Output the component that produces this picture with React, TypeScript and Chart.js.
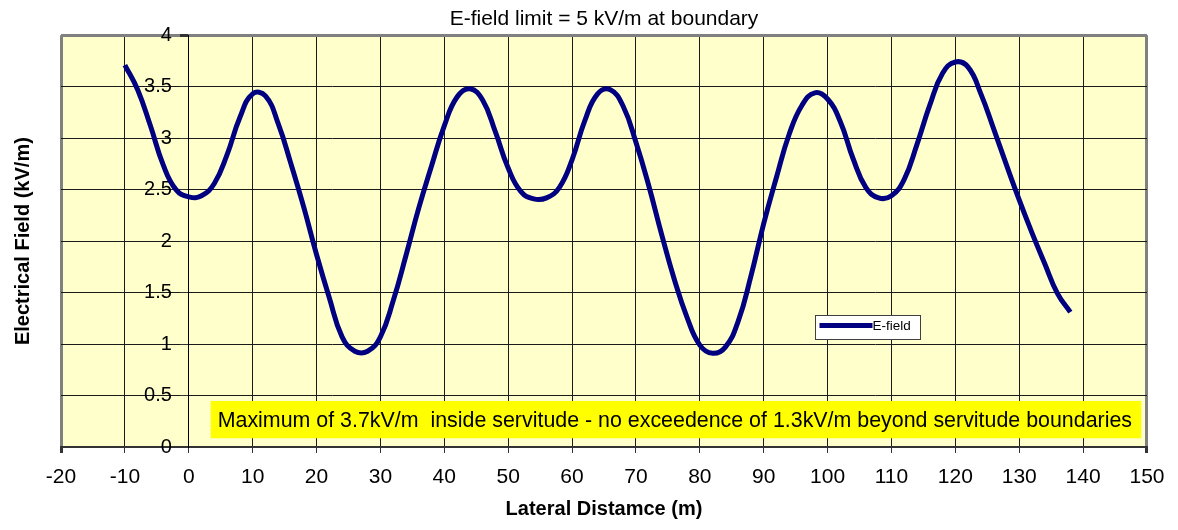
import React, { useEffect, useRef } from "react";
import { Chart, registerables } from "chart.js";

Chart.register(...registerables);

// ---- Data (every 2 m) ----
const distances = [
  -10, -8, -6, -4, -2, 0, 2, 4, 6, 8, 10, 12, 14, 16, 18, 20, 22, 24, 26, 28,
  30, 32, 34, 36, 38, 40, 42, 44, 46, 48, 50, 52, 54, 56, 58, 60, 62, 64, 66, 68,
  70, 72, 74, 76, 78, 80, 82, 84, 86, 88, 90, 92, 94, 96, 98, 100, 102, 104, 106, 108,
  110, 112, 114, 116, 118, 120, 122, 124, 126, 128, 130, 132, 134, 136, 138,
];
const eField = [
  3.71, 3.47, 3.12, 2.74, 2.5, 2.43, 2.44, 2.56, 2.84, 3.2, 3.43, 3.41, 3.14, 2.75, 2.33, 1.87, 1.45, 1.07, 0.93, 0.93,
  1.07, 1.42, 1.86, 2.32, 2.73, 3.12, 3.4, 3.48, 3.37, 3.06, 2.71, 2.48, 2.41, 2.42, 2.52, 2.79, 3.17, 3.43, 3.47, 3.31,
  2.96, 2.54, 2.07, 1.63, 1.26, 0.99, 0.91, 0.97, 1.22, 1.66, 2.17, 2.62, 3.04, 3.32, 3.44, 3.38, 3.16, 2.8, 2.52, 2.42,
  2.44, 2.6, 2.94, 3.32, 3.63, 3.74, 3.69, 3.43, 3.09, 2.74, 2.4, 2.08, 1.78, 1.49, 1.31,
];
const xRange = [-20, 150];
const yRange = [0, 4];
const xStep = 10;
const yStep = 0.5;

const chartTitle = "E-field limit = 5 kV/m at boundary";
const xTitle = "Lateral Distamce (m)";
const yTitle = "Electrical Field (kV/m)";
const seriesLabel = "E-field";
const noteText =
  "Maximum of 3.7kV/m  inside servitude - no exceedence of 1.3kV/m beyond servitude boundaries";

const FONT = "'Liberation Sans', Arial, Helvetica, sans-serif";
const LINE_COLOR = "#000080";

const plotBackground = {
  id: "plotBackground",
  beforeDraw(chart: any) {
    const { ctx, chartArea } = chart;
    ctx.save();
    ctx.fillStyle = "#FFFFCC";
    ctx.fillRect(chartArea.left, chartArea.top, chartArea.right - chartArea.left, chartArea.bottom - chartArea.top);
    ctx.restore();
  },
};

const noteBox = {
  id: "noteBox",
  afterDatasetsDraw(chart: any) {
    const { ctx } = chart;
    const xs = chart.scales.x;
    const ys = chart.scales.y;
    const left = xs.getPixelForValue(3.43);
    const right = xs.getPixelForValue(149.1);
    const top = ys.getPixelForValue(0.447);
    const bottom = ys.getPixelForValue(0.085);
    ctx.save();
    ctx.fillStyle = "#FFFF00";
    ctx.fillRect(left, top, right - left, bottom - top);
    ctx.fillStyle = "#000";
    ctx.font = `21.4px ${FONT}`;
    ctx.textBaseline = "middle";
    ctx.textAlign = "left";
    ctx.fillText(noteText, left + 7, (top + bottom) / 2 + 1);
    ctx.restore();
  },
};

const floatingLegend = {
  id: "floatingLegend",
  afterDraw(chart: any) {
    const { ctx } = chart;
    const xs = chart.scales.x;
    const ys = chart.scales.y;
    const ds = chart.data.datasets[0];
    const left = Math.round(xs.getPixelForValue(98)) + 0.5;
    const top = Math.round(ys.getPixelForValue(1.284)) + 0.5;
    const w = 105;
    const h = 24;
    ctx.save();
    ctx.fillStyle = "#FFFFFF";
    ctx.fillRect(left, top, w, h);
    ctx.strokeStyle = "#404040";
    ctx.lineWidth = 1;
    ctx.strokeRect(left, top, w, h);
    ctx.strokeStyle = ds.borderColor;
    ctx.lineWidth = 5;
    ctx.beginPath();
    ctx.moveTo(left + 4, top + 10);
    ctx.lineTo(left + 57, top + 10);
    ctx.stroke();
    ctx.fillStyle = "#000";
    ctx.font = `13.5px ${FONT}`;
    ctx.textBaseline = "middle";
    ctx.textAlign = "left";
    ctx.fillText(ds.label, left + 57, top + 11);
    ctx.restore();
  },
};

export default function App() {
  const canvasRef = useRef<HTMLCanvasElement | null>(null);

  useEffect(() => {
    if (!canvasRef.current) return;
    Chart.defaults.font.family = FONT;
    Chart.defaults.color = "#000";
    const points = distances.map((d, i) => ({ x: d, y: eField[i] }));
    const isEdgeX = (c: any) => c.tick && (c.tick.value === xRange[0] || c.tick.value === xRange[1]);
    const isTopY = (c: any) => c.tick && c.tick.value === yRange[1];
    const chart = new Chart(canvasRef.current, {
      type: "line",
      data: {
        datasets: [
          {
            label: seriesLabel,
            data: points,
            borderColor: LINE_COLOR,
            backgroundColor: LINE_COLOR,
            borderWidth: 5,
            pointRadius: 0,
            fill: false,
            tension: 0.45,
            yAxisID: "y",
            xAxisID: "x",
          },
        ],
      },
      options: {
        animation: false,
        responsive: true,
        maintainAspectRatio: false,
        layout: { padding: { left: 0, right: 27, top: 0, bottom: 0 } },
        plugins: {
          legend: { display: false },
          tooltip: { enabled: false },
          title: {
            display: true,
            text: chartTitle,
            fullSize: false,
            color: "#000",
            font: { size: 21, weight: "normal", family: FONT },
            padding: { top: 7, bottom: 3 },
          },
        },
        scales: {
          x: {
            type: "linear",
            position: "bottom",
            min: xRange[0],
            max: xRange[1],
            ticks: { stepSize: xStep, font: { size: 21, lineHeight: 1 }, color: "#000", padding: 13.5 },
            grid: {
              color: (c: any) => (isEdgeX(c) ? "#808080" : "#1a1a1a"),
              lineWidth: (c: any) => (isEdgeX(c) ? 3 : 1),
              tickColor: "#333",
              tickLength: 6,
            },
            border: { display: true, color: "#333", width: 2 },
            title: {
              display: true,
              text: xTitle,
              color: "#000",
              font: { size: 20, weight: "bold", lineHeight: 0.8 },
              padding: { top: 0, bottom: 13 },
            },
          },
          y: {
            type: "linear",
            position: { x: 0 } as any,
            min: yRange[0],
            max: yRange[1],
            ticks: { stepSize: yStep, display: false },
            grid: {
              color: (c: any) => (isTopY(c) ? "#808080" : "#1a1a1a"),
              lineWidth: (c: any) => (isTopY(c) ? 3 : 1),
              tickColor: "#333",
              tickLength: 8,
            },
            border: { display: true, color: "#000", width: 1 },
          },
          yLabels: {
            type: "linear",
            axis: "y",
            position: { x: -2.65 } as any,
            min: yRange[0],
            max: yRange[1],
            ticks: {
              stepSize: yStep,
              font: { size: 20 },
              color: "#000",
              callback: (v: any) => String(v),
            },
            grid: { display: false, drawTicks: false },
            border: { display: false },
          },
          yT: {
            type: "linear",
            axis: "y",
            position: "left",
            min: yRange[0],
            max: yRange[1],
            ticks: { display: false },
            grid: { display: false, drawTicks: false },
            border: { display: false },
            title: {
              display: true,
              text: yTitle,
              color: "#000",
              font: { size: 20, weight: "bold" },
              padding: { top: 11, bottom: 26 },
            },
          },
        },
      },
      plugins: [plotBackground, noteBox, floatingLegend],
    } as any);
    return () => chart.destroy();
  }, []);

  return (
    <div style={{ position: "absolute", left: 0, top: 0, width: 1178, height: 530 }}>
      <canvas ref={canvasRef} />
    </div>
  );
}
